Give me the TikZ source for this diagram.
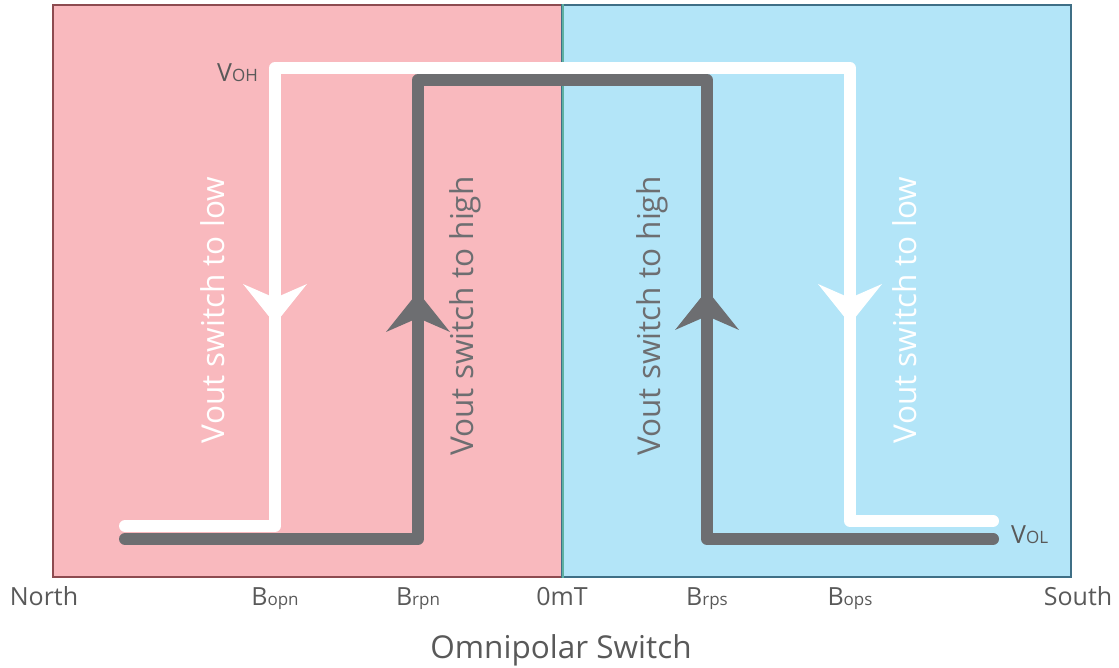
\documentclass[tikz,border=0pt]{standalone}
\usepackage{fontspec}
\setmainfont{Open Sans}
\usepackage{xcolor}
\usepackage{tikz}
\usetikzlibrary{arrows.meta,decorations.markings}
\definecolor{northpink}{HTML}{F9B9BE}
\definecolor{southblue}{HTML}{B3E5F8}
\definecolor{northedge}{HTML}{8D4B50}
\definecolor{southedge}{HTML}{3F6F86}
\definecolor{zeroline}{HTML}{5DB0A2}
\definecolor{trace}{HTML}{6D6E71}
\definecolor{labelgray}{HTML}{595959}
\newcommand{\sublbl}[2]{#1{\fontsize{17}{20}\selectfont #2}}

\begin{document}
\begin{tikzpicture}[x=1pt,y=1pt,
	panel/.style={minimum width=509pt,minimum height=572pt,inner sep=0pt,line width=2pt},
	level/.style={line width=12pt,line cap=round,line join=round},
	tick/.style={text=labelgray,font=\fontsize{25}{30}\selectfont,anchor=base},
	vtext/.style={font=\fontsize{31.5}{36}\selectfont,rotate=90},
	>={Stealth[length=40pt,width=64pt,inset=14pt,line width=0pt]}]
\useasboundingbox (0,0) rectangle (1119,668);
	\node[panel,fill=northpink,draw=northedge] (np) at (307.5,377) {};
	\node[panel,fill=southblue,draw=southedge] (sp) at (816.5,377) {};
	\draw [zeroline,line width=2pt] (np.north east) -- (np.south east);
	% white level
	\coordinate (w1) at (125,142);
	\coordinate (w2) at (275,142);
	\coordinate (w3) at (275,600);
	\coordinate (w4) at (850,600);
	\coordinate (w5) at (850,147);
	\coordinate (w6) at (993,147);
	% gray level
	\coordinate (g1) at (125,129);
	\coordinate (g2) at (418,129);
	\coordinate (g3) at (418,588);
	\coordinate (g4) at (707,588);
	\coordinate (g5) at (707,129);
	\coordinate (g6) at (993,129);
	\draw [level,white,postaction={decorate},decoration={markings,
		mark=at position 352pt with {\arrowreversed{>}},
		mark=at position 1439pt with {\arrow{>}}}]
		(w1) -- (w2) -- (w3) -- (w4) -- (w5) -- (w6);
	\draw [level,trace,postaction={decorate},decoration={markings,
		mark=at position 540pt with {\arrow{>}},
		mark=at position 1251pt with {\arrowreversed{>}}}]
		(g1) -- (g2) -- (g3) -- (g4) -- (g5) -- (g6);
	\node[vtext,text=white] (lown) at (213,358) {Vout switch to low};
	\node[vtext,text=trace] (highn) at (465,352) {Vout switch to high};
	\node[vtext,text=trace] (highs) at (652,352) {Vout switch to high};
	\node[vtext,text=white] (lows) at (905,358) {Vout switch to low};
	\node[tick,anchor=base east,inner sep=0pt] (voh) at (258,586) {\sublbl{V}{OH}};
	\node[tick,anchor=base west,inner sep=0pt] (vol) at (1011,124) {\sublbl{V}{OL}};
	\node[tick] (north) at (44,62) {North};
	\node[tick] (bopn) at (275,62) {\sublbl{B}{opn}};
	\node[tick] (brpn) at (418,62) {\sublbl{B}{rpn}};
	\node[tick] (zero) at (562,62) {0mT};
	\node[tick] (brps) at (707,62) {\sublbl{B}{rps}};
	\node[tick] (bops) at (850,62) {\sublbl{B}{ops}};
	\node[tick] (south) at (1078,62) {South};
	\node[tick,font=\fontsize{31.5}{36}\selectfont] (title) at (561,9) {Omnipolar Switch};
\end{tikzpicture}
\end{document}
